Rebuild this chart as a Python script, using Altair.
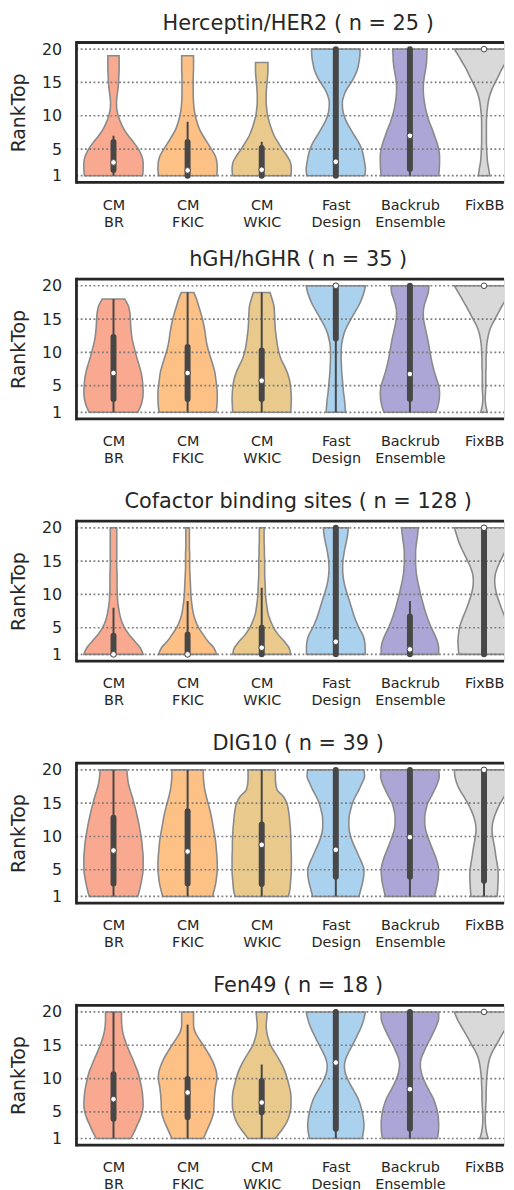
import json
import altair as alt
import pandas as pd

# ---------------- data ----------------
methods = ["CM BR", "CM FKIC", "CM WKIC", "Fast Design", "Backrub Ensemble", "FixBB"]
method_label_lines = [["CM", "BR"], ["CM", "FKIC"], ["CM", "WKIC"],
                      ["Fast", "Design"], ["Backrub", "Ensemble"], ["FixBB"]]
colors = ["#F9A98F", "#FDC185", "#E9CA8C", "#AAD1EE", "#ABA6D6", "#D9D9D9"]
panel_titles = ["Herceptin/HER2 ( n = 25 )", "hGH/hGHR ( n = 35 )",
                "Cofactor binding sites ( n = 128 )", "DIG10 ( n = 39 )", "Fen49 ( n = 18 )"]
rank_ticks = [1, 5, 10, 15, 20]

# violin half-width (fraction of max) at RankTop = 1, 2, 3, ... (list length = top of violin)
her2_widths = [
    [0.98, 1.0, 1.0, 0.95, 0.84, 0.68, 0.5, 0.35, 0.24, 0.16, 0.11, 0.1, 0.12, 0.15, 0.17, 0.18, 0.19, 0.19, 0.19],
    [0.98, 1.0, 0.99, 0.93, 0.8, 0.66, 0.52, 0.4, 0.32, 0.26, 0.22, 0.2, 0.19, 0.19, 0.19, 0.19, 0.2, 0.2, 0.2],
    [0.98, 1.0, 0.97, 0.85, 0.69, 0.55, 0.42, 0.33, 0.26, 0.2, 0.17, 0.15, 0.15, 0.16, 0.18, 0.2, 0.21, 0.21],
    [0.98, 1.0, 0.97, 0.93, 0.87, 0.77, 0.63, 0.5, 0.37, 0.28, 0.23, 0.22, 0.27, 0.37, 0.52, 0.64, 0.73, 0.78, 0.81, 0.82],
    [0.97, 0.99, 1.0, 1.0, 0.97, 0.91, 0.83, 0.75, 0.66, 0.59, 0.53, 0.49, 0.46, 0.45, 0.46, 0.49, 0.53, 0.56, 0.57, 0.58],
    [0.19, 0.16, 0.12, 0.1, 0.09, 0.08, 0.08, 0.08, 0.08, 0.09, 0.11, 0.14, 0.19, 0.27, 0.38, 0.49, 0.6, 0.73, 0.86, 1.0],
]
hgh_widths = [
    [0.82, 0.92, 0.98, 1.0, 0.99, 0.97, 0.93, 0.87, 0.8, 0.74, 0.68, 0.63, 0.6, 0.58, 0.57, 0.55, 0.5, 0.38],
    [0.96, 0.99, 1.0, 1.0, 0.98, 0.95, 0.92, 0.86, 0.79, 0.72, 0.66, 0.62, 0.59, 0.55, 0.5, 0.44, 0.37, 0.3, 0.21],
    [0.98, 0.99, 1.0, 0.99, 0.97, 0.93, 0.86, 0.76, 0.65, 0.58, 0.53, 0.5, 0.47, 0.45, 0.44, 0.43, 0.41, 0.35, 0.28],
    [0.33, 0.31, 0.29, 0.26, 0.24, 0.22, 0.2, 0.19, 0.18, 0.18, 0.19, 0.23, 0.29, 0.39, 0.51, 0.64, 0.77, 0.87, 0.95, 1.0],
    [0.88, 0.95, 0.99, 1.0, 0.97, 0.9, 0.83, 0.77, 0.72, 0.68, 0.64, 0.6, 0.55, 0.5, 0.46, 0.45, 0.48, 0.55, 0.62, 0.64],
    [0.11, 0.06, 0.04, 0.05, 0.06, 0.06, 0.06, 0.07, 0.07, 0.08, 0.09, 0.12, 0.17, 0.25, 0.37, 0.49, 0.61, 0.74, 0.87, 1.0],
]
cof_widths = [
    [1.0, 0.9, 0.71, 0.52, 0.37, 0.27, 0.21, 0.17, 0.14, 0.13, 0.12, 0.12, 0.12, 0.11, 0.11, 0.11, 0.11, 0.11, 0.11, 0.11],
    [0.98, 0.88, 0.68, 0.52, 0.37, 0.27, 0.2, 0.16, 0.13, 0.11, 0.1, 0.09, 0.08, 0.07, 0.07, 0.07, 0.06, 0.06, 0.06, 0.06],
    [0.98, 0.92, 0.75, 0.55, 0.4, 0.3, 0.22, 0.18, 0.15, 0.13, 0.12, 0.11, 0.1, 0.1, 0.1, 0.09, 0.09, 0.08, 0.08, 0.08],
    [0.99, 0.99, 0.97, 0.9, 0.78, 0.68, 0.6, 0.53, 0.46, 0.39, 0.32, 0.27, 0.24, 0.23, 0.24, 0.27, 0.31, 0.36, 0.4, 0.42],
    [0.97, 0.97, 0.92, 0.83, 0.72, 0.63, 0.55, 0.48, 0.42, 0.36, 0.31, 0.26, 0.22, 0.2, 0.19, 0.19, 0.2, 0.23, 0.26, 0.28],
    [0.85, 0.87, 0.88, 0.86, 0.83, 0.76, 0.67, 0.58, 0.5, 0.43, 0.38, 0.36, 0.38, 0.45, 0.55, 0.66, 0.77, 0.86, 0.93, 1.0],
]
dig_widths = [
    [0.82, 0.88, 0.93, 0.97, 1.0, 1.0, 1.0, 0.98, 0.96, 0.93, 0.89, 0.85, 0.8, 0.75, 0.69, 0.63, 0.56, 0.5, 0.47, 0.45],
    [0.84, 0.9, 0.95, 0.98, 1.0, 1.0, 0.99, 0.97, 0.95, 0.92, 0.88, 0.84, 0.8, 0.75, 0.69, 0.63, 0.58, 0.55, 0.53, 0.53],
    [0.9, 0.95, 0.97, 0.99, 1.0, 1.0, 1.0, 0.99, 0.99, 0.98, 0.97, 0.95, 0.93, 0.9, 0.85, 0.73, 0.52, 0.47, 0.46, 0.46],
    [0.78, 0.84, 0.9, 0.94, 0.95, 0.88, 0.78, 0.68, 0.58, 0.5, 0.45, 0.44, 0.45, 0.5, 0.56, 0.66, 0.78, 0.88, 0.97, 0.95],
    [0.83, 0.88, 0.93, 0.96, 0.97, 0.93, 0.86, 0.77, 0.68, 0.6, 0.53, 0.5, 0.5, 0.54, 0.6, 0.72, 0.83, 0.93, 0.99, 0.97],
    [0.44, 0.46, 0.47, 0.48, 0.47, 0.44, 0.4, 0.37, 0.33, 0.29, 0.27, 0.29, 0.35, 0.44, 0.55, 0.68, 0.82, 0.92, 0.98, 1.0],
]
fen_widths = [
    [0.58, 0.7, 0.8, 0.9, 0.97, 1.0, 0.99, 0.97, 0.93, 0.88, 0.82, 0.73, 0.64, 0.54, 0.45, 0.37, 0.31, 0.28, 0.27, 0.27],
    [0.53, 0.63, 0.73, 0.82, 0.88, 0.89, 0.9, 0.92, 0.95, 0.99, 0.97, 0.9, 0.8, 0.67, 0.53, 0.38, 0.25, 0.2, 0.2, 0.2],
    [0.46, 0.63, 0.79, 0.9, 0.96, 0.99, 0.99, 0.97, 0.92, 0.86, 0.79, 0.69, 0.57, 0.43, 0.3, 0.22, 0.17, 0.15, 0.17, 0.19],
    [0.89, 0.93, 0.95, 0.93, 0.89, 0.83, 0.75, 0.63, 0.5, 0.39, 0.31, 0.29, 0.34, 0.44, 0.56, 0.67, 0.78, 0.88, 0.95, 1.0],
    [0.93, 0.96, 0.97, 0.96, 0.93, 0.87, 0.79, 0.67, 0.55, 0.45, 0.38, 0.35, 0.38, 0.47, 0.57, 0.69, 0.8, 0.9, 0.97, 0.97],
    [0.14, 0.08, 0.05, 0.04, 0.05, 0.06, 0.07, 0.07, 0.08, 0.09, 0.11, 0.14, 0.19, 0.28, 0.41, 0.53, 0.66, 0.79, 0.91, 1.0],
]

# inner box statistics per method
her2_median = [3.0, 1.8, 1.9, 3.1, 7.0, 20]
her2_q1 = [1.85, 1.0, 1.0, 1.0, 2.0, 20]
her2_q3 = [6.05, 6.05, 5.15, 20, 20, 20]
her2_wlo = [1, 1, 1, 1, 1, 20]
her2_whi = [7, 9.1, 6.1, 20, 20, 20]

hgh_median = [6.9, 6.9, 5.75, 20, 6.75, 20]
hgh_q1 = [3.0, 3.0, 3.0, 12.1, 3.0, 20]
hgh_q3 = [12.3, 10.8, 10.3, 20, 20, 20]
hgh_wlo = [1, 1, 1, 1, 1, 20]
hgh_whi = [18, 19, 19, 20, 20, 20]

cof_median = [1, 1, 2, 2.9, 1.75, 20]
cof_q1 = [1, 1, 1, 1, 1, 1]
cof_q3 = [3.8, 4.0, 5.0, 20, 6.7, 20]
cof_wlo = [1, 1, 1, 1, 1, 1]
cof_whi = [8, 9, 11, 20, 9, 20]

dig_median = [7.9, 7.75, 8.75, 8.0, 9.9, 20]
dig_q1 = [2.95, 2.95, 2.85, 3.95, 3.95, 3.35]
dig_q3 = [12.8, 13.8, 11.8, 20, 20, 20]
dig_wlo = [1, 1, 1, 1, 1, 1]
dig_whi = [20, 20, 20, 20, 20, 20]

fen_median = [6.9, 7.9, 6.4, 12.4, 8.4, 20]
fen_q1 = [3.95, 4.2, 4.95, 2.45, 2.45, 20]
fen_q3 = [10.65, 9.95, 9.65, 20, 20, 20]
fen_wlo = [1, 1, 1, 1, 1, 20]
fen_whi = [20, 18.1, 12.1, 20, 20, 20]

# ---------------- layout / style ----------------
PLOT_W = 431
PLOT_H = 141
SLOT_PX = 74.7                      # pixels between two violin centres
X_MAX = -0.5 + PLOT_W / SLOT_PX     # right edge of the visible part of the axes
FONT = "DejaVu Sans"
DARK = "#474747"
INK = "#262626"

label_expr = json.dumps(method_label_lines) + "[datum.value]"

xscale = alt.Scale(domain=[-0.5, X_MAX], nice=False, zero=False)
yscale = alt.Scale(domain=[0, 21], nice=False, zero=False)
xaxis = alt.Axis(values=list(range(len(methods))), labelExpr=label_expr, title=None,
                 grid=False, domain=False, ticks=False, tickSize=0, labelPadding=16,
                 labelFontSize=14.5, labelLineHeight=17, labelColor=INK,
                 labelFont=FONT, labelBaseline="top", labelFlush=25, labelFlushOffset=20,
                 labelOverlap=False, labelBound=False)
yaxis = alt.Axis(values=rank_ticks, title="RankTop", grid=False, domain=False, ticks=False,
                 tickSize=0, labelPadding=15, labelFontSize=16, labelColor=INK,
                 labelFont=FONT, titleFont=FONT, titleFontSize=19, titleFontWeight="normal",
                 titleColor=INK, titlePadding=14, minExtent=34, maxExtent=34,
                 labelOverlap=False)


def panel(title, widths, med, q1, q3, wlo, whi):
    rows = []
    for i, m in enumerate(methods):
        for r, w in enumerate(widths[i], start=1):
            rows.append({"method": m, "idx": i, "rank": r, "w": w})
    vdf = pd.DataFrame(rows)
    bdf = pd.DataFrame({"method": methods, "idx": list(range(len(methods))),
                        "median": med, "q1": q1, "q3": q3, "wlo": wlo, "whi": whi})
    gdf = pd.DataFrame({"tick": rank_ticks})
    one = pd.DataFrame({"k": [0]})

    violins = alt.Chart(vdf).transform_calculate(
        left="datum.idx - 0.4 * datum.w", right="datum.idx + 0.4 * datum.w"
    ).mark_area(orient="horizontal", interpolate="monotone", stroke="#8a8a8a",
                strokeWidth=1.6, clip=True, opacity=1).encode(
        y=alt.Y("rank:Q", scale=yscale, axis=yaxis),
        x=alt.X("left:Q", scale=xscale, axis=xaxis, stack=None),
        x2="right:Q",
        color=alt.Color("method:N", scale=alt.Scale(domain=methods, range=colors), legend=None),
        detail="method:N",
    )
    grid = alt.Chart(gdf).mark_rule(color="#7c7c7c", strokeWidth=1.7, strokeDash=[1.8, 2.5]).encode(
        y=alt.Y("tick:Q", scale=yscale, axis=yaxis),
        x=alt.value(0), x2=alt.value(PLOT_W),
    )
    whisk = alt.Chart(bdf).transform_filter("datum.whi > datum.wlo").mark_rule(
        color=DARK, strokeWidth=2).encode(
        x=alt.X("idx:Q", scale=xscale, axis=xaxis),
        y=alt.Y("wlo:Q", scale=yscale, axis=yaxis), y2="whi:Q",
    )
    box = alt.Chart(bdf).transform_filter("datum.q3 > datum.q1").mark_rule(
        color=DARK, strokeWidth=6, strokeCap="round").encode(
        x=alt.X("idx:Q", scale=xscale, axis=xaxis),
        y=alt.Y("q1:Q", scale=yscale, axis=yaxis), y2="q3:Q",
    )
    med_pt = alt.Chart(bdf).mark_circle(size=32, color="white", stroke=DARK,
                                        strokeWidth=1, opacity=1).encode(
        x=alt.X("idx:Q", scale=xscale, axis=xaxis),
        y=alt.Y("median:Q", scale=yscale, axis=yaxis),
    )
    frame_top = alt.Chart(one).mark_rule(color=INK, strokeWidth=2.8).encode(
        x=alt.value(0), x2=alt.value(PLOT_W), y=alt.value(0))
    frame_bot = alt.Chart(one).mark_rule(color=INK, strokeWidth=2.8).encode(
        x=alt.value(0), x2=alt.value(PLOT_W), y=alt.value(PLOT_H))
    frame_left = alt.Chart(one).mark_rule(color=INK, strokeWidth=2.8, strokeCap="square").encode(
        x=alt.value(0), y=alt.value(0), y2=alt.value(PLOT_H))

    return alt.layer(violins, grid, whisk, box, med_pt, frame_top, frame_bot, frame_left).properties(
        width=PLOT_W, height=PLOT_H,
        title=alt.TitleParams(title, fontSize=21, font=FONT, fontWeight="normal",
                              color=INK, offset=7, anchor="middle", dx=8),
    )


p1 = panel(panel_titles[0], her2_widths, her2_median, her2_q1, her2_q3, her2_wlo, her2_whi)
p2 = panel(panel_titles[1], hgh_widths, hgh_median, hgh_q1, hgh_q3, hgh_wlo, hgh_whi)
p3 = panel(panel_titles[2], cof_widths, cof_median, cof_q1, cof_q3, cof_wlo, cof_whi)
p4 = panel(panel_titles[3], dig_widths, dig_median, dig_q1, dig_q3, dig_wlo, dig_whi)
p5 = panel(panel_titles[4], fen_widths, fen_median, fen_q1, fen_q3, fen_wlo, fen_whi)

chart = alt.vconcat(
    p1, alt.vconcat(p2, p3, p4, p5, spacing=25), spacing=19.5
).properties(
    padding={"left": 1, "top": -1, "right": 0, "bottom": 0},
    background="white",
).configure_view(stroke=None).configure(font=FONT)

chart.save("out.html", embed_options={"renderer": "svg", "actions": False})
